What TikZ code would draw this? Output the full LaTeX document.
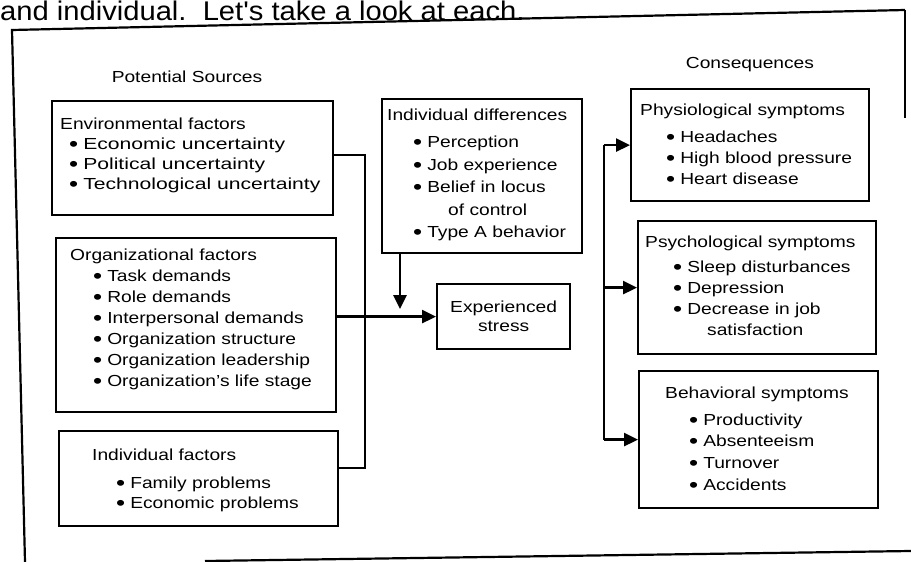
\documentclass[tikz,border=0pt]{standalone}
\usepackage{fontspec}
\setmainfont{Liberation Sans}[FakeStretch=1.2]
\newfontfamily\headfont{Liberation Sans}[FakeStretch=1.08]
\usetikzlibrary{arrows.meta}
\newcommand\bdot{\smash{\raisebox{-2pt}{\scalebox{1.35}{\textbullet}}}}
\newcommand\bl[2]{\hspace*{#1pt}\bdot\hspace{5pt}#2}
\newcommand\blw[2]{\hspace*{#1pt}\bdot\hspace{5pt}\scalebox{1.1}[1]{#2}}
\begin{document}
\begin{tikzpicture}[x=1pt,y=-1pt,
  box/.style={draw, line width=2.2pt, inner sep=0pt, anchor=north west},
  txt/.style={anchor=north west, align=left, inner sep=0pt},
  lbl/.style={inner sep=0pt, font=\fontsize{16}{19}\selectfont},
  conn/.style={line width=2.6pt},
  arr/.style={conn, -{Triangle[length=14pt,width=13pt]}},
  frame/.style={line width=2.2pt}]
\useasboundingbox (0,0) rectangle (911,562);

% running text and page frame
\node[anchor=base west, inner sep=0pt, font=\headfont\fontsize{27}{30}\selectfont] (head) at (0,20.5) {and individual.\ \ Let's take a look at each.};
\draw[frame] (905,10) -- (12,30) -- (25,562);
\draw[frame] (905,10) -- (905,118);
\draw[frame] (205,561) -- (911,551);

% column labels
\node[lbl] (src) at (187,77) {Potential Sources};
\node[lbl] (cons) at (750,65) {Consequences};

% boxes
\node[box, minimum width=281pt, minimum height=114pt] (env) at (51,100) {};
\node[box, minimum width=280pt, minimum height=174pt] (org) at (55,237) {};
\node[box, minimum width=279pt, minimum height=95pt] (indf) at (58,430) {};
\node[box, minimum width=200pt, minimum height=154pt] (idiff) at (381,98) {};
\node[box, minimum width=133pt, minimum height=65pt, align=center,
      font=\fontsize{16}{19}\selectfont] (stress) at (436,283) {Experienced\\stress};
\node[box, minimum width=238pt, minimum height=112pt] (phys) at (630,88) {};
\node[box, minimum width=238pt, minimum height=133pt] (psych) at (637,220) {};
\node[box, minimum width=239pt, minimum height=137pt] (behav) at (638,370) {};

% box texts
\node[txt, font=\fontsize{16}{20}\selectfont] (envt) at (60,117.5)
  {Environmental factors\\ \blw{9}{Economic uncertainty}\\ \blw{9}{Political uncertainty}\\ \blw{9}{Technological uncertainty}};
\node[txt, font=\fontsize{16}{21}\selectfont] (orgt) at (70,248.5)
  {Organizational factors\\ \bl{23}{Task demands}\\ \bl{23}{Role demands}\\ \bl{23}{Interpersonal demands}\\
   \bl{23}{Organization structure}\\ \bl{23}{Organization leadership}\\ \bl{23}{Organization's life stage}};
\node[txt, font=\fontsize{16}{20.5}\selectfont] (indft) at (92,448.8)
  {Individual factors\\[7pt] \bl{24}{Family problems}\\ \bl{24}{Economic problems}};
\node[txt, font=\fontsize{16}{22.5}\selectfont] (idifft) at (387,108.8)
  {Individual differences\\[4.5pt] \bl{26}{Perception}\\ \bl{26}{Job experience}\\ \bl{26}{Belief in locus}\\
   \hspace*{61pt}of control\\ \bl{26}{Type A behavior}};
\node[txt, font=\fontsize{16}{21}\selectfont] (physt) at (640,103.8)
  {Physiological symptoms\\[6pt] \bl{26}{Headaches}\\ \bl{26}{High blood pressure}\\ \bl{26}{Heart disease}};
\node[txt, font=\fontsize{16}{21}\selectfont] (psycht) at (645,235.8)
  {Psychological symptoms\\[4pt] \bl{28}{Sleep disturbances}\\ \bl{28}{Depression}\\ \bl{28}{Decrease in job}\\
   \hspace*{62pt}satisfaction};
\node[txt, font=\fontsize{16}{21.7}\selectfont] (behavt) at (665,386.8)
  {Behavioral symptoms\\[5pt] \bl{24}{Productivity}\\ \bl{24}{Absenteeism}\\ \bl{24}{Turnover}\\ \bl{24}{Accidents}};

% left connectors
\coordinate (ca) at (365,155);
\coordinate (cb) at (365,468);
\draw[conn] (env.east |- ca) -- (ca) -- (cb) -- (indf.east |- cb);
\draw[arr] (org.east |- stress.west) -- (stress.west);
\coordinate (cd) at (400,309);
\draw[arr] (idiff.south -| cd) -- (cd);

% right connectors
\coordinate (rv) at (604,0);
\draw[conn] (rv |- phys.west) -- (rv |- behav.west);
\draw[arr] (rv |- phys.west) -- (phys.west);
\draw[arr] (rv |- psych.west) -- (psych.west);
\draw[arr] (rv |- behav.west) -- (behav.west);
\end{tikzpicture}
\end{document}
